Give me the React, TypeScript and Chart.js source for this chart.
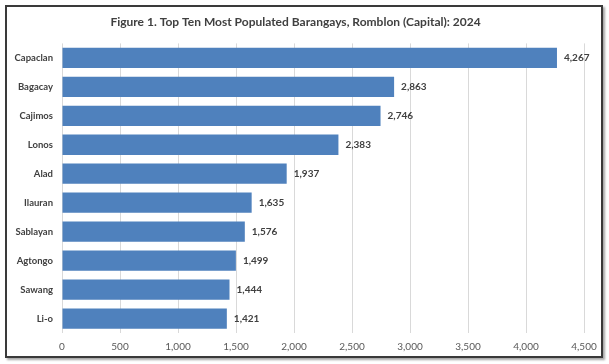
import React, { useEffect, useRef } from "react";
import { Chart, registerables } from "chart.js";

Chart.register(...registerables);

const titleText = "Figure 1. Top Ten Most Populated Barangays, Romblon (Capital): 2024";
const barangays = ["Capaclan", "Bagacay", "Cajimos", "Lonos", "Alad", "Ilauran", "Sablayan", "Agtongo", "Sawang", "Li-o"];
const population = [4267, 2863, 2746, 2383, 1937, 1635, 1576, 1499, 1444, 1421];
const axisMax = 4500;
const axisStep = 500;

const FONT = "Lato, 'Open Sans', 'Liberation Sans', sans-serif";

const valueLabels = {
  id: "valueLabels",
  afterDatasetsDraw(chart: any) {
    const ctx = chart.ctx;
    const meta = chart.getDatasetMeta(0);
    ctx.save();
    ctx.font = `bold 10px ${FONT}`;
    ctx.fillStyle = "#404040";
    ctx.textAlign = "left";
    ctx.textBaseline = "middle";
    meta.data.forEach((bar: any, i: number) => {
      const v = chart.data.datasets[0].data[i] as number;
      ctx.fillText(v.toLocaleString("en-US"), bar.x + 7, bar.y);
    });
    ctx.restore();
  },
};

export default function App() {
  const ref = useRef<HTMLCanvasElement | null>(null);
  useEffect(() => {
    if (!ref.current) return;
    const chart = new Chart(ref.current, {
      type: "bar",
      data: {
        labels: barangays,
        datasets: [
          {
            data: population,
            backgroundColor: "#4F81BD",
            borderWidth: 0,
            barPercentage: 0.7,
            categoryPercentage: 1,
          },
        ],
      },
      options: {
        indexAxis: "y",
        responsive: false,
        animation: false,
        layout: { padding: { left: 0, right: 17, top: 0, bottom: -5 } },
        plugins: {
          legend: { display: false },
          tooltip: { enabled: false },
          title: {
            display: true,
            text: titleText,
            color: "#404040",
            font: { family: FONT, size: 12, weight: "bold" },
            padding: { top: 8, bottom: 14 },
          },
        },
        scales: {
          x: {
            min: 0,
            max: axisMax,
            ticks: {
              stepSize: axisStep,
              color: "#595959",
              font: { family: FONT, size: 10 },
              padding: 8,
              callback: (v: any) => Number(v).toLocaleString("en-US"),
            },
            grid: { color: "#d9d9d9", drawTicks: false },
            border: { display: false },
            afterFit: (s: any) => {
              s.paddingRight = 0;
              s.paddingLeft = 0;
            },
          },
          y: {
            ticks: {
              color: "#404040",
              font: { family: FONT, size: 9.5, weight: "bold" },
              padding: 1,
            },
            grid: { display: false },
            border: { display: false },
            afterFit: (s: any) => {
              s.width = 55;
            },
          },
        },
      },
      plugins: [valueLabels],
    });
    return () => chart.destroy();
  }, []);

  return (
    <div style={{ position: "absolute", left: 0, top: 0, width: 609, height: 364, background: "#fff" }}>
      <div
        style={{
          position: "absolute",
          left: 5,
          top: 5,
          width: 594,
          height: 349,
          border: "2px solid #3a3a3a",
          boxShadow: "2px 2px 2px rgba(0,0,0,0.35)",
          background: "#fff",
          overflow: "hidden",
        }}
      >
        <canvas ref={ref} width={594} height={349} style={{ display: "block" }} />
      </div>
    </div>
  );
}
